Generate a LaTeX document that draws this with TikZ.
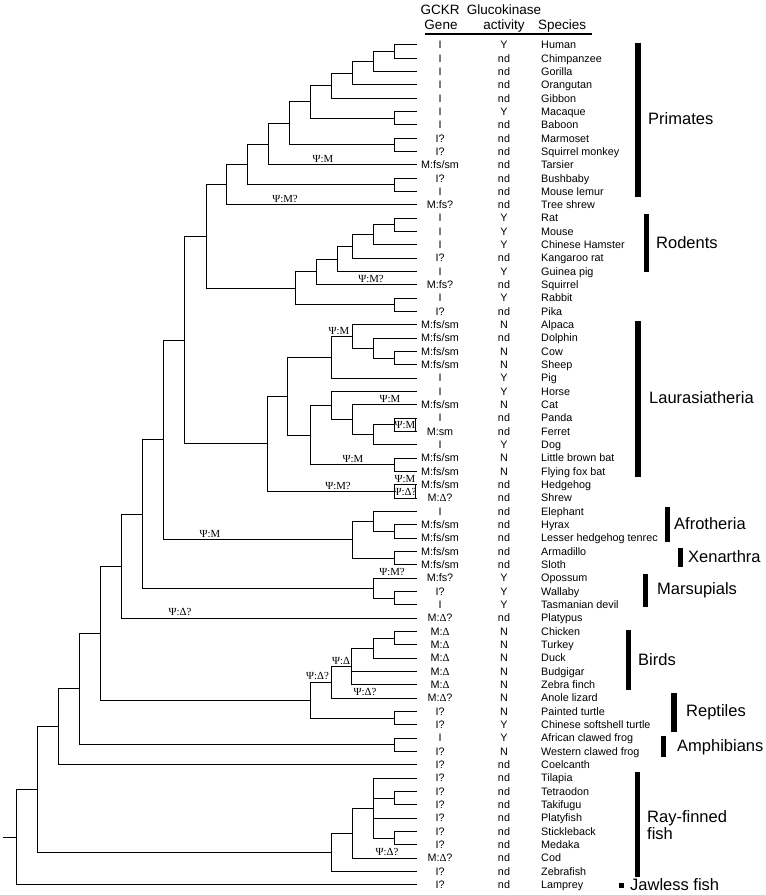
\documentclass[tikz,border=0pt]{standalone}
\usepackage{fontspec}
\setmainfont{Liberation Sans}
\newfontfamily\lserif{Liberation Serif}
\usetikzlibrary{calc}
\newcommand\dd{{\lserif Δ}}
\newcommand\mkclade[4]{%
  \path let \p1=($(#3)!.5!(#4)$) in (#2pt,\y1) coordinate (#1);
  \draw[br] (#1) |- (#3);
  \draw[br] (#1) |- (#4);}
\newcommand\addkid[2]{\draw[br] (#1) |- (#2);}
\newcommand\lab[4]{\path let \p1=(#2) in node[psi] (#1) at (#3pt,\y1+2.3pt) {#4};}
\begin{document}
\begin{tikzpicture}[x=1pt,y=-1pt,
  br/.style={line width=0.8pt, black},
  sp/.style={font=\fontsize{10.8}{12}\selectfont, anchor=base west, inner sep=0pt},
  cc/.style={font=\fontsize{10.8}{12}\selectfont, anchor=base, inner sep=0pt},
  hd/.style={font=\fontsize{13.5}{15}\selectfont, anchor=base, inner sep=0pt},
  psi/.style={font=\lserif\fontsize{10.8}{12}\selectfont, inner sep=0pt, anchor=base},
  grp/.style={font=\fontsize{16.5}{17}\selectfont, anchor=west, inner sep=0pt, align=left},
]
\useasboundingbox (0,0) rectangle (766,895);

% header
\node[hd] (hGCKR) at (440,14.5) {GCKR};
\node[hd] (hGluc) at (504,14.5) {Glucokinase};
\node[hd] (hGene) at (441,29.5) {Gene};
\node[hd] (hAct) at (504,29.5) {activity};
\node[hd,anchor=base west] (hSp) at (538,29.5) {Species};
\draw[line width=2pt] (425,34) -- (592,34);

% tips
\foreach \i in {1,...,64} \coordinate (t\i) at (417,{44.8+(\i-1)*13.33});

% columns
\foreach \g [count=\i] in {I,I,I,I,I,I,I,I?,I?,M:fs/sm,I?,I,M:fs?,I,I,I,I?,I,M:fs?,I,I?,M:fs/sm,M:fs/sm,M:fs/sm,M:fs/sm,I,I,M:fs/sm,I,M:sm,I,M:fs/sm,M:fs/sm,M:fs/sm,M:\dd?,I,M:fs/sm,M:fs/sm,M:fs/sm,M:fs/sm,M:fs?,I?,I,M:\dd?,M:\dd,M:\dd,M:\dd,M:\dd,M:\dd,M:\dd?,I?,I?,I,I?,I?,I?,I?,I?,I?,I?,I?,M:\dd?,I?,I?}
  \node[cc] (g\i) at (440,{44.8+(\i-1)*13.33+3.9}) {\g};
\foreach \a [count=\i] in {Y,nd,nd,nd,nd,Y,nd,nd,nd,nd,nd,nd,nd,Y,Y,Y,nd,Y,nd,Y,nd,N,nd,N,N,Y,Y,N,nd,nd,Y,N,N,nd,nd,nd,nd,nd,nd,nd,Y,Y,Y,nd,N,N,N,N,N,N,N,Y,Y,N,nd,nd,nd,nd,nd,nd,nd,nd,nd,nd}
  \node[cc] (a\i) at (504,{44.8+(\i-1)*13.33+3.9}) {\a};
\foreach \s [count=\i] in {Human,Chimpanzee,Gorilla,Orangutan,Gibbon,Macaque,Baboon,Marmoset,Squirrel monkey,Tarsier,Bushbaby,Mouse lemur,Tree shrew,Rat,Mouse,Chinese Hamster,Kangaroo rat,Guinea pig,Squirrel,Rabbit,Pika,Alpaca,Dolphin,Cow,Sheep,Pig,Horse,Cat,Panda,Ferret,Dog,Little brown bat,Flying fox bat,Hedgehog,Shrew,Elephant,Hyrax,Lesser hedgehog tenrec,Armadillo,Sloth,Opossum,Wallaby,Tasmanian devil,Platypus,Chicken,Turkey,Duck,Budgigar,Zebra finch,Anole lizard,Painted turtle,Chinese softshell turtle,African clawed frog,Western clawed frog,Coelcanth,Tilapia,Tetraodon,Takifugu,Platyfish,Stickleback,Medaka,Cod,Zebrafish,Lamprey}
  \node[sp] (s\i) at (541,{44.8+(\i-1)*13.33+3.9}) {\s};

% primates
\mkclade{nHC}{394}{t1}{t2}
\mkclade{nHCG}{373.3}{nHC}{t3}
\mkclade{nHCGO}{352.7}{nHCG}{t4}
\mkclade{nHom}{331.7}{nHCGO}{t5}
\mkclade{nMB}{394}{t6}{t7}
\mkclade{nCatar}{310}{nHom}{nMB}
\mkclade{nPlat}{394}{t8}{t9}
\mkclade{nAnth}{289.3}{nCatar}{nPlat}
\mkclade{nHap}{268.3}{nAnth}{t10}
\mkclade{nStr}{394}{t11}{t12}
\mkclade{nPrim}{247.7}{nHap}{nStr}
\mkclade{nEuar}{226}{nPrim}{t13}
% glires
\mkclade{nRM}{394}{t14}{t15}
\mkclade{nRMH}{373.3}{nRM}{t16}
\mkclade{nRMHK}{352.7}{nRMH}{t17}
\mkclade{nRodA}{337.7}{nRMHK}{t18}
\mkclade{nRod}{316.7}{nRodA}{t19}
\mkclade{nLag}{394}{t20}{t21}
\mkclade{nGli}{295}{nRod}{nLag}
\mkclade{nEG}{206}{nEuar}{nGli}
% laurasiatheria
\mkclade{nCS}{394}{t24}{t25}
\mkclade{nDCS}{373.3}{t23}{nCS}
\mkclade{nCet}{352.3}{t22}{nDCS}
\mkclade{nCetP}{331.7}{nCet}{t26}
\mkclade{nPF}{394.3}{t29}{t30}
\mkclade{nPFD}{373.3}{nPF}{t31}
\mkclade{nCarn}{352.3}{t28}{nPFD}
\mkclade{nHCarn}{331.7}{t27}{nCarn}
\mkclade{nBat}{394.3}{t32}{t33}
\mkclade{nScro}{310}{nHCarn}{nBat}
\mkclade{nFere}{287.7}{nCetP}{nScro}
\mkclade{nEul}{394.3}{t34}{t35}
\mkclade{nLaur}{267.5}{nFere}{nEul}
\mkclade{nBor}{184.3}{nEG}{nLaur}
% atlantogenata
\mkclade{nHT}{394.3}{t37}{t38}
\mkclade{nAfr}{373.3}{t36}{nHT}
\mkclade{nXen}{394.3}{t39}{t40}
\mkclade{nAtl}{352.3}{nAfr}{nXen}
\mkclade{nEuth}{163.3}{nBor}{nAtl}
% marsupials, monotremes
\mkclade{nWT}{394.3}{t42}{t43}
\mkclade{nMar}{373.3}{t41}{nWT}
\mkclade{nTher}{142.7}{nEuth}{nMar}
\mkclade{nMam}{121.7}{nTher}{t44}
% sauropsids
\mkclade{nCT}{394.3}{t45}{t46}
\mkclade{nGal}{373.3}{nCT}{t47}
\mkclade{nNeo}{351.7}{nGal}{t49}
\addkid{nNeo}{t48}
\mkclade{nSq}{331.7}{nNeo}{t50}
\mkclade{nTur}{394.3}{t51}{t52}
\mkclade{nSau}{310}{nSq}{nTur}
\mkclade{nAmn}{100.7}{nMam}{nSau}
\mkclade{nAmp}{394.3}{t53}{t54}
\mkclade{nTet}{79}{nAmn}{nAmp}
\mkclade{nSarc}{58.3}{nTet}{t55}
% fish
\mkclade{nTT}{394.3}{t57}{t58}
\mkclade{nSM}{394.3}{t60}{t61}
\mkclade{nPerc}{373.3}{t56}{nSM}
\addkid{nPerc}{nTT}
\addkid{nPerc}{t59}
\mkclade{nAcA}{352.3}{nPerc}{t62}
\mkclade{nAct}{331}{nAcA}{t63}
\mkclade{nOst}{37.3}{nSarc}{nAct}
\mkclade{nRoot}{16}{nOst}{t64}
\path let \p1=(nRoot) in (3.3pt,\y1) coordinate (rootL);
\draw[br] (rootL) -- (nRoot);

% boxes
\draw[br] ($(t29)+(-2,0)$) -- ($(t30)+(-2,0)$);
\draw[br] ($(t34)+(-2,0)$) -- ($(t35)+(-2,0)$);
\node[psi,anchor=center] (L6) at ($(nPF)+(10.7,0.3)$) {Ψ:M};
\node[psi,anchor=center] (L9) at ($(nEul)+(10.7,0.3)$) {Ψ:\dd?};

% branch labels
\lab{L1}{t10}{323}{Ψ:M}
\lab{L2}{t13}{285}{Ψ:M?}
\lab{L3}{t19}{371}{Ψ:M?}
\lab{L4}{nCet}{339}{Ψ:M}
\lab{L5}{t28}{390}{Ψ:M}
\lab{L7}{nBat}{353}{Ψ:M}
\lab{L8}{t34}{405}{Ψ:M}
\lab{L10}{nEul}{338}{Ψ:M?}
\lab{L11}{nAtl}{210}{Ψ:M}
\lab{L12}{t41}{392}{Ψ:M?}
\lab{L13}{t44}{180}{Ψ:\dd?}
\lab{L14}{nNeo}{341}{Ψ:\dd}
\lab{L15}{t50}{365}{Ψ:\dd?}
\lab{L16}{nSq}{317.5}{Ψ:\dd?}
\lab{L17}{t62}{387}{Ψ:\dd?}

% group bars and labels
\fill (635,43) rectangle (641,197);
\node[grp] (gPrim) at (648,119) {Primates};
\fill (644,214) rectangle (649,272);
\node[grp] (gRod) at (656,243) {Rodents};
\fill (635,321) rectangle (641,477);
\node[grp] (gLaur) at (649,398) {Laurasiatheria};
\fill (665,507) rectangle (670,542);
\node[grp] (gAfr) at (674,524) {Afrotheria};
\fill (678,548) rectangle (683,567);
\node[grp] (gXen) at (688,557) {Xenarthra};
\fill (643,574) rectangle (648,607);
\node[grp] (gMar) at (657,590) {Marsupials};
\fill (626,630) rectangle (631,690);
\node[grp] (gBird) at (638,660) {Birds};
\fill (671,693) rectangle (677,732);
\node[grp] (gRep) at (686,712) {Reptiles};
\fill (661,736) rectangle (666,757);
\node[grp] (gAmp) at (677,747) {Amphibians};
\fill (635,772) rectangle (640,877);
\node[grp] (gRay) at (647,825.5) {Ray-finned\\fish};
\fill (619,883) rectangle (624,888);
\node[grp] (gJaw) at (630,885) {Jawless fish};
\end{tikzpicture}
\end{document}
